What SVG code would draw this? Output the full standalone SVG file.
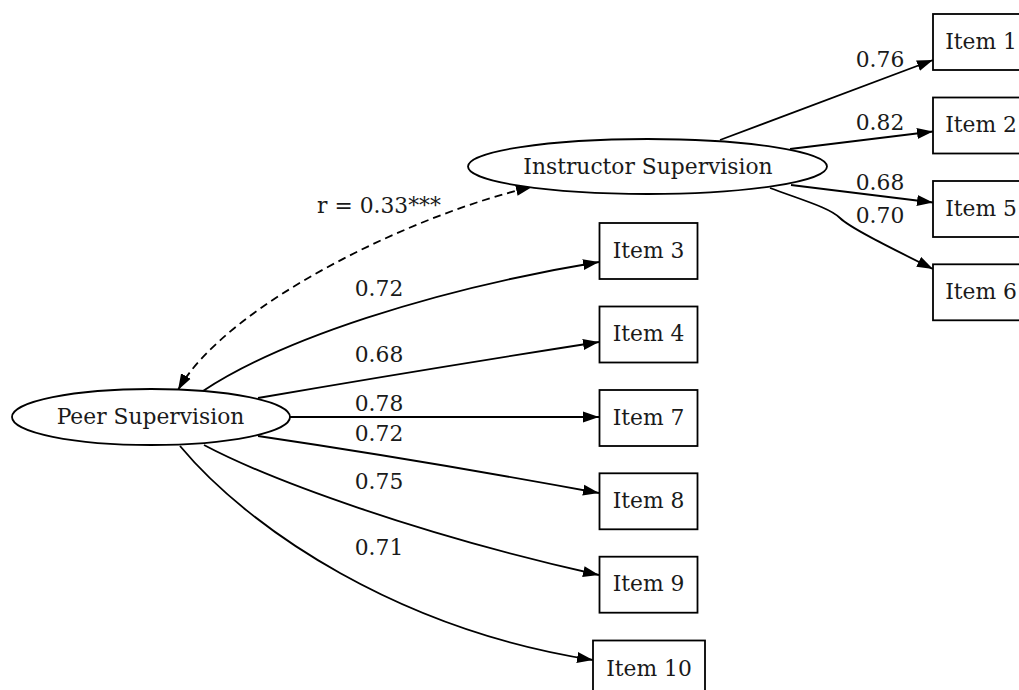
<svg xmlns="http://www.w3.org/2000/svg" width="1019" height="690" viewBox="0 0 1019 690">
<style>
text{font-family:"DejaVu Serif","Liberation Serif",serif;font-size:21.8px;fill:#1a1a1a;text-anchor:middle}
.node ellipse,.node rect{fill:#fff;stroke:#000;stroke-width:1.8}
.edge{fill:none;stroke:#000;stroke-width:1.8;marker-end:url(#arr)}
.dash{stroke-dasharray:8,5;marker-start:url(#arr)}
</style>
<defs>
<marker id="arr" markerUnits="userSpaceOnUse" markerWidth="18" markerHeight="13" refX="16" refY="6" orient="auto-start-reverse">
<path d="M0,0.5 L16,6 L0,11.5 z" fill="#000"/>
</marker>
</defs>
<rect width="1019" height="690" fill="#fff"/>
<g id="connectors">
<path class="edge" d="M720,140 L933,60"/>
<path class="edge" d="M790,149 L933,131.5"/>
<path class="edge" d="M791,185 L933,202.5"/>
<path class="edge" d="M770,188 C805,201 830,208 840,218 C850,228 895,250 933,269"/>
<path class="edge dash" d="M178,390 C228,302 420,212 532,187"/>
<path class="edge" d="M203,391 C280,340 430,290 599,262"/>
<path class="edge" d="M258,398 Q420,370 599,342"/>
<path class="edge" d="M290,417 L599,417"/>
<path class="edge" d="M258,436 Q420,460 599,493"/>
<path class="edge" d="M204,445 C270,480 420,535 599,575"/>
<path class="edge" d="M180,446 C250,530 400,630 593,660"/>
<text x="880" y="67">0.76</text>
<text x="880" y="130">0.82</text>
<text x="880" y="190">0.68</text>
<text x="880" y="223">0.70</text>
<text x="379" y="213">r = 0.33***</text>
<text x="379" y="296">0.72</text>
<text x="379" y="362">0.68</text>
<text x="379" y="411">0.78</text>
<text x="379" y="441">0.72</text>
<text x="379" y="489">0.75</text>
<text x="379" y="555">0.71</text>
</g>
<g id="instructor" class="node"><ellipse cx="647.5" cy="166.5" rx="179.5" ry="27.5"/><text x="648" y="173.5">Instructor Supervision</text></g>
<g id="peer" class="node"><ellipse cx="151" cy="417" rx="139" ry="28"/><text x="150.5" y="424">Peer Supervision</text></g>
<g id="item1" class="node"><rect x="933" y="14" width="98" height="56"/><text x="981" y="48.5">Item 1</text></g>
<g id="item2" class="node"><rect x="933" y="97.5" width="98" height="56"/><text x="981" y="132">Item 2</text></g>
<g id="item5" class="node"><rect x="933" y="181" width="98" height="56"/><text x="981" y="215.5">Item 5</text></g>
<g id="item6" class="node"><rect x="933" y="264.3" width="98" height="56"/><text x="981" y="298.8">Item 6</text></g>
<g id="item3" class="node"><rect x="599.5" y="223" width="98" height="56"/><text x="648.5" y="257.5">Item 3</text></g>
<g id="item4" class="node"><rect x="599.5" y="306.5" width="98" height="56"/><text x="648.5" y="341">Item 4</text></g>
<g id="item7" class="node"><rect x="599.5" y="390" width="98" height="56"/><text x="648.5" y="424.5">Item 7</text></g>
<g id="item8" class="node"><rect x="599.5" y="473.3" width="98" height="56"/><text x="648.5" y="507.8">Item 8</text></g>
<g id="item9" class="node"><rect x="599.5" y="556.7" width="98" height="56"/><text x="648.5" y="591.2">Item 9</text></g>
<g id="item10" class="node"><rect x="593" y="640.5" width="112" height="56"/><text x="649" y="675.5">Item 10</text></g>
</svg>
